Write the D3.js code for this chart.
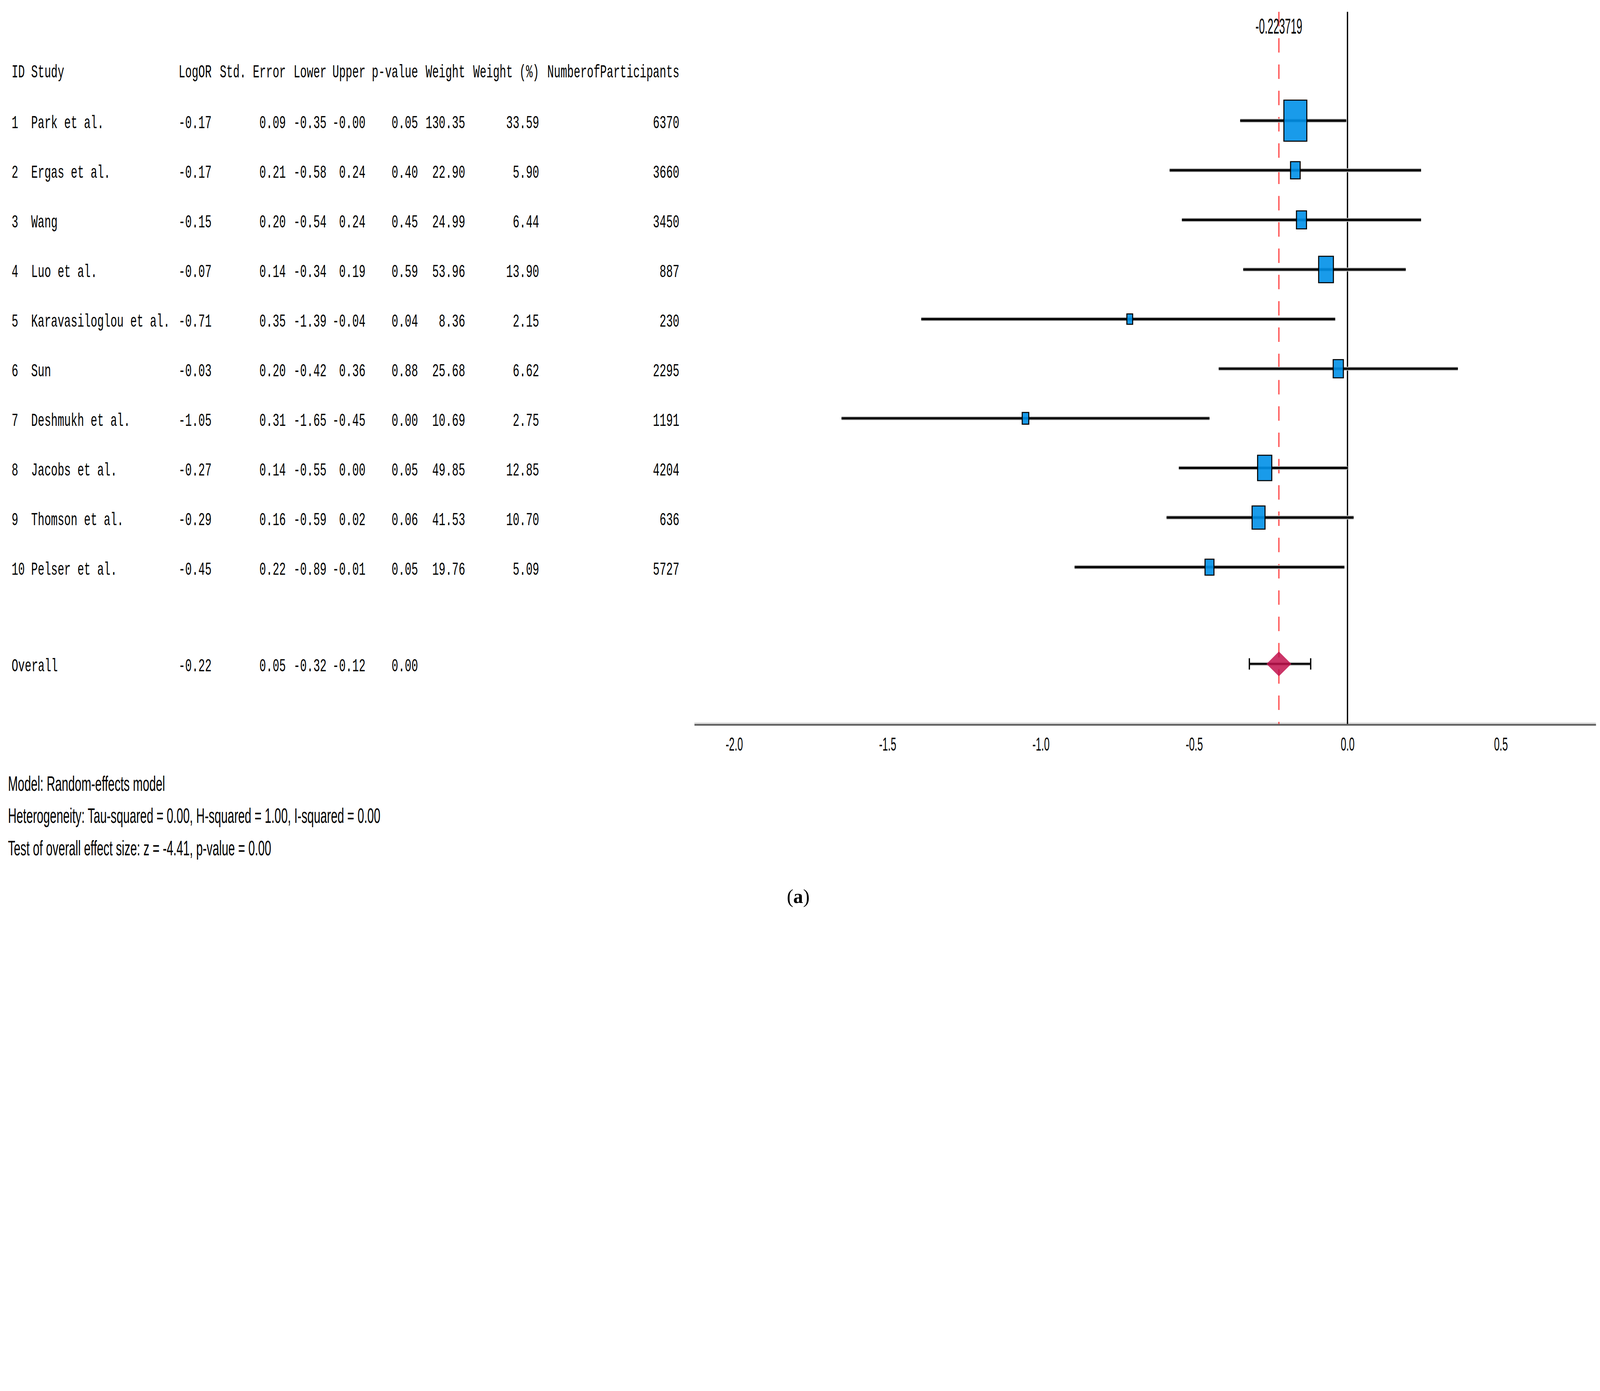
<!DOCTYPE html>
<html>
<head>
<meta charset="UTF-8">
<title>Forest plot (a)</title>
<script src="https://d3js.org/d3.v7.min.js"></script>
<style>
  html, body { margin: 0; padding: 0; background: #fff; overflow: hidden; }
  svg { display: block; width: 100vw; height: calc(100vw * 3560 / 6208); }
  .mono { font-family: "Liberation Mono", "DejaVu Sans Mono", monospace; font-size: 70px; fill: #000; }
  .narrow { font-family: "Liberation Sans", Arial, sans-serif; fill: #000; }
</style>
</head>
<body>
<svg id="chart" viewBox="0 0 6208 3560" preserveAspectRatio="xMinYMin meet"></svg>
<script>
// table data
const ids = [1, 2, 3, 4, 5, 6, 7, 8, 9, 10];
const studies = ["Park et al.", "Ergas et al.", "Wang", "Luo et al.", "Karavasiloglou et al.",
                 "Sun", "Deshmukh et al.", "Jacobs et al.", "Thomson et al.", "Pelser et al."];
const logOR = [-0.17, -0.17, -0.15, -0.07, -0.71, -0.03, -1.05, -0.27, -0.29, -0.45];
const stdErr = [0.09, 0.21, 0.20, 0.14, 0.35, 0.20, 0.31, 0.14, 0.16, 0.22];
const lower = [-0.35, -0.58, -0.54, -0.34, -1.39, -0.42, -1.65, -0.55, -0.59, -0.89];
const upper = [-0.004, 0.24, 0.24, 0.19, -0.04, 0.36, -0.45, 0.00, 0.02, -0.01];
const pValues = [0.05, 0.40, 0.45, 0.59, 0.04, 0.88, 0.00, 0.05, 0.06, 0.05];
const weights = [130.35, 22.90, 24.99, 53.96, 8.36, 25.68, 10.69, 49.85, 41.53, 19.76];
const weightPct = [33.59, 5.90, 6.44, 13.90, 2.15, 6.62, 2.75, 12.85, 10.70, 5.09];
const participants = [6370, 3660, 3450, 887, 230, 2295, 1191, 4204, 636, 5727];

// pooled estimate
const overallLogOR = -0.223719;
const overallSE = 0.05;
const overallLower = -0.32;
const overallUpper = -0.12;
const overallP = 0.00;

const header = ["LogOR", "Std. Error", "Lower", "Upper", "p-value", "Weight", "Weight (%)", "NumberofParticipants"];
const xTicks = [-2.0, -1.5, -1.0, -0.5, 0.0, 0.5];
const footer = [
  "Model: Random-effects model",
  "Heterogeneity: Tau-squared = 0.00, H-squared = 1.00, I-squared = 0.00",
  "Test of overall effect size: z = -4.41, p-value = 0.00"
];

const svg = d3.select("#chart");

// scales
const x = d3.scaleLinear().domain([-2.13, 0.81]).range([2694, 6192]);
const y = d3.scaleLinear().domain([0, 9]).range([468, 2200]);
const overallRow = 10.95;
const boxW = d3.scaleSqrt().domain([0, 33.59]).range([0, 89]);
const boxRatio = 1.79;
const axisY = 2811;
const plotTop = 46;

// monospace text, squeezed horizontally like the original bitmap font
function mono(sel, tx, ty, str, anchor) {
  return sel.append("text")
    .attr("class", "mono")
    .attr("text-anchor", anchor || "start")
    .attr("transform", `translate(${tx},${ty}) scale(0.61,1)`)
    .text(str);
}
function narrow(sel, tx, ty, str, size, sx, anchor) {
  return sel.append("text")
    .attr("class", "narrow")
    .attr("font-size", size)
    .attr("text-anchor", anchor || "start")
    .attr("transform", `translate(${tx},${ty}) scale(${sx},1)`)
    .text(str);
}

// ---- table ----
const table = svg.append("g");
const colRight = [821, 1109, 1267, 1418, 1622, 1805, 2092, 2636];
mono(table, 45, 300, "ID");
mono(table, 121, 300, "Study");
header.forEach((h, i) => mono(table, colRight[i], 300, h, "end"));

const f2 = v => v.toFixed(2);
ids.forEach((id, i) => {
  const ty = y(i) + 29;
  mono(table, 45, ty, String(id));
  mono(table, 121, ty, studies[i]);
  const cells = [f2(logOR[i]), f2(stdErr[i]), f2(lower[i]), f2(upper[i]), f2(pValues[i]),
                 f2(weights[i]), f2(weightPct[i]), String(participants[i])];
  cells.forEach((c, j) => mono(table, colRight[j], ty, c, "end"));
});
const oy = y(overallRow) + 29;
mono(table, 45, oy, "Overall");
[f2(overallLogOR), f2(overallSE), f2(overallLower), f2(overallUpper), f2(overallP)]
  .forEach((c, j) => mono(table, colRight[j], oy, c, "end"));

// ---- plot ----
const plot = svg.append("g");

// axis
plot.append("line")
  .attr("x1", x.range()[0]).attr("x2", x.range()[1])
  .attr("y1", axisY - 6).attr("y2", axisY - 6)
  .attr("stroke", "#dedede").attr("stroke-width", 6);

const axis = plot.append("g")
  .attr("transform", `translate(0,${axisY})`)
  .call(d3.axisBottom(x).tickValues(xTicks).tickSize(0).tickSizeOuter(0)
    .tickFormat(d => d.toFixed(1)));
axis.select(".domain").attr("stroke", "#5f5f5f").attr("stroke-width", 7);
axis.selectAll(".tick text")
  .attr("class", "narrow")
  .attr("font-size", 73)
  .attr("fill", "#000")
  .attr("y", 101).attr("dy", 0)
  .attr("transform", "scale(0.53,1)");

// null line
plot.append("line")
  .attr("x1", x(0)).attr("x2", x(0))
  .attr("y1", plotTop).attr("y2", axisY - 3)
  .attr("stroke", "#000").attr("stroke-width", 5);

// pooled estimate line
plot.append("line")
  .attr("x1", x(overallLogOR)).attr("x2", x(overallLogOR))
  .attr("y1", plotTop).attr("y2", axisY - 3)
  .attr("stroke", "#ff2020").attr("stroke-opacity", 0.8)
  .attr("stroke-width", 5).attr("stroke-dasharray", "56,46");

narrow(plot, x(overallLogOR), 130, String(overallLogOR), 84, 0.48, "middle");

// study CIs and boxes
const rows = ids.map((id, i) => ({ i, est: logOR[i], lo: lower[i], hi: upper[i], w: weightPct[i] }));

plot.append("g").selectAll("line")
  .data(rows).join("line")
  .attr("x1", d => x(d.lo)).attr("x2", d => x(d.hi))
  .attr("y1", d => y(d.i)).attr("y2", d => y(d.i))
  .attr("stroke", "#bdbdbd").attr("stroke-width", 15);

plot.append("g").selectAll("line")
  .data(rows).join("line")
  .attr("x1", d => x(d.lo)).attr("x2", d => x(d.hi))
  .attr("y1", d => y(d.i)).attr("y2", d => y(d.i))
  .attr("stroke", "#000").attr("stroke-width", 9);

plot.append("g").selectAll("rect")
  .data(rows).join("rect")
  .attr("x", d => x(d.est) - boxW(d.w) / 2)
  .attr("y", d => y(d.i) - boxW(d.w) * boxRatio / 2)
  .attr("width", d => boxW(d.w))
  .attr("height", d => boxW(d.w) * boxRatio)
  .attr("fill", "#0090e8").attr("fill-opacity", 0.9)
  .attr("stroke", "#000").attr("stroke-width", 4);

// overall CI with caps and diamond
const yo = y(overallRow);
plot.append("line")
  .attr("x1", x(overallLower)).attr("x2", x(overallUpper))
  .attr("y1", yo).attr("y2", yo)
  .attr("stroke", "#c8c8c8").attr("stroke-width", 15);
plot.append("line")
  .attr("x1", x(overallLower)).attr("x2", x(overallUpper))
  .attr("y1", yo).attr("y2", yo)
  .attr("stroke", "#000").attr("stroke-width", 7);
[overallLower, overallUpper].forEach(v => {
  plot.append("line")
    .attr("x1", x(v)).attr("x2", x(v))
    .attr("y1", yo - 22).attr("y2", yo + 22)
    .attr("stroke", "#000").attr("stroke-width", 5);
});
const dx = x(overallLogOR), dh = 48;
plot.append("polygon")
  .attr("points", [[dx - dh, yo], [dx, yo - dh], [dx + dh, yo], [dx, yo + dh]].join(" "))
  .attr("fill", "#c2124e").attr("fill-opacity", 0.85);

// ---- footer ----
footer.forEach((t, i) => narrow(svg, 31, 3068 + i * 124.5, t, 81, 0.565));

// caption
svg.append("text")
  .attr("x", 3097).attr("y", 3502)
  .attr("text-anchor", "middle")
  .attr("font-family", "Liberation Serif, Times New Roman, serif")
  .attr("font-size", 76)
  .html('(<tspan font-weight="bold">a</tspan>)');
</script>
</body>
</html>
